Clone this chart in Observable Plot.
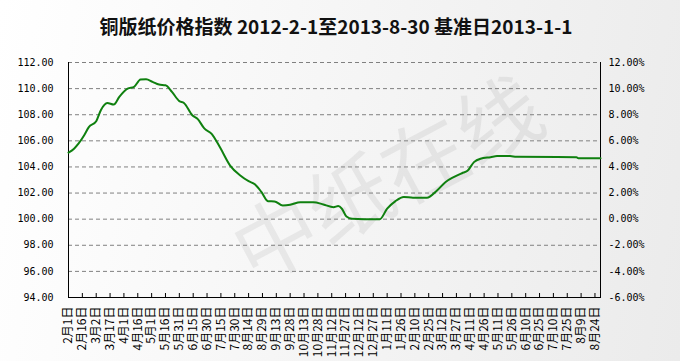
<!DOCTYPE html>
<html><head><meta charset="utf-8">
<script src="https://cdn.jsdelivr.net/npm/d3@7"></script>
<script src="https://cdn.jsdelivr.net/npm/@observablehq/plot@0.6"></script>
<style>
html,body{margin:0;padding:0;}
body{position:relative;width:680px;height:361px;overflow:hidden;background:linear-gradient(100deg,#ffffff 0%,#f6f6f6 45%,#ebebeb 100%);}
#title{position:relative;height:50px;line-height:52px;text-align:center;font-family:"Noto Sans CJK SC";font-weight:bold;font-size:19px;color:#111;padding-right:8px;white-space:nowrap;}
#wm{position:absolute;left:215px;top:130px;width:340px;height:90px;line-height:90px;text-align:center;font-family:"Noto Sans CJK SC";font-size:84px;color:rgba(0,0,0,0.06);transform:rotate(-28deg);white-space:nowrap;}
#chart{position:relative;}
</style></head><body>
<div id="wm">中纸在线</div>
<div id="title">铜版纸价格指数 2012-2-1至2013-8-30 基准日2013-1-1</div>
<div id="chart"></div>
<script>
const dates = ["2012-02-01","2012-02-07","2012-02-12","2012-02-18","2012-02-23","2012-03-02","2012-03-07","2012-03-14","2012-03-21","2012-03-27","2012-04-05","2012-04-12","2012-04-19","2012-04-25","2012-05-02","2012-05-09","2012-05-16","2012-05-23","2012-05-31","2012-06-05","2012-06-14","2012-06-20","2012-06-27","2012-07-05","2012-07-14","2012-07-25","2012-08-05","2012-08-14","2012-08-21","2012-08-28","2012-09-04","2012-09-11","2012-09-20","2012-09-28","2012-10-09","2012-10-23","2012-11-03","2012-11-14","2012-11-19","2012-11-23","2012-11-28","2012-12-04","2012-12-17","2013-01-01","2013-01-03","2013-01-11","2013-01-20","2013-01-29","2013-02-08","2013-02-23","2013-03-06","2013-03-15","2013-03-24","2013-04-02","2013-04-08","2013-04-15","2013-04-22","2013-05-03","2013-05-10","2013-05-24","2013-05-31","2013-08-04","2013-08-06","2013-08-30"];
const values = [105.10,105.40,105.80,106.43,107.05,107.50,108.35,108.90,108.78,109.37,110.00,110.14,110.70,110.72,110.52,110.31,110.26,109.75,109.04,108.90,107.96,107.66,106.95,106.54,105.50,104.10,103.35,102.91,102.66,102.07,101.38,101.36,101.05,101.10,101.30,101.30,101.13,100.92,101.00,100.80,100.20,100.03,100.00,100.00,100.00,100.80,101.38,101.70,101.64,101.64,102.20,102.83,103.22,103.52,103.70,104.37,104.63,104.75,104.83,104.83,104.78,104.75,104.67,104.67];
const yTicks = [94,96,98,100,102,104,106,108,110,112];
const xTickDates = ["2012-02-01","2012-02-16","2012-03-02","2012-03-17","2012-04-01","2012-04-16","2012-05-01","2012-05-16","2012-05-31","2012-06-15","2012-06-30","2012-07-15","2012-07-30","2012-08-14","2012-08-29","2012-09-13","2012-09-28","2012-10-13","2012-10-28","2012-11-12","2012-11-27","2012-12-12","2012-12-27","2013-01-11","2013-01-26","2013-02-10","2013-02-25","2013-03-12","2013-03-27","2013-04-11","2013-04-26","2013-05-11","2013-05-26","2013-06-10","2013-06-25","2013-07-10","2013-07-25","2013-08-09","2013-08-24"];
const xDomain = ["2012-02-01","2013-08-30"];
const baseValue = 100;

const data = dates.map((d, i) => ({date: new Date(d), value: values[i]}));
const xTicks = xTickDates.map(d => new Date(d));
const fmtDate = d => `${d.getUTCMonth() + 1}月${d.getUTCDate()}日`;

const chart = Plot.plot({
  width: 680, height: 311,
  marginTop: 12, marginBottom: 64, marginLeft: 68, marginRight: 80,
  style: {background: "transparent", fontFamily: "DejaVu Sans Mono", fontSize: "10px", color: "#000"},
  x: {type: "utc", domain: xDomain.map(d => new Date(d)), label: null},
  y: {domain: [yTicks[0], yTicks[yTicks.length - 1]], label: null},
  marks: [
    Plot.gridY(yTicks, {stroke: "#808080", strokeOpacity: 1, strokeDasharray: "4,3"}),
    Plot.axisY(yTicks, {anchor: "left", tickSize: 0, tickPadding: 15, tickFormat: d => d.toFixed(2)}),
    Plot.axisY(yTicks, {anchor: "right", tickSize: 0, tickPadding: 8, tickFormat: d => (d - baseValue).toFixed(2) + "%"}),
    Plot.axisX(xTicks, {anchor: "bottom", tickSize: 0, tickPadding: 9, tickRotate: -90, tickFormat: fmtDate, fontFamily: "Noto Sans CJK SC", fontSize: 12}),
    Plot.ruleX(xTicks, {x: d => d, insetTop: 231, stroke: "#000"}),
    Plot.frame({anchor: "left", stroke: "#000"}),
    Plot.frame({anchor: "right", stroke: "#000"}),
    Plot.frame({anchor: "bottom", stroke: "#000"}),
    Plot.line(data, {x: "date", y: "value", stroke: "#0f800f", strokeWidth: 2, curve: "monotone-x"})
  ]
});
document.getElementById("chart").appendChild(chart);
</script>
</body></html>
